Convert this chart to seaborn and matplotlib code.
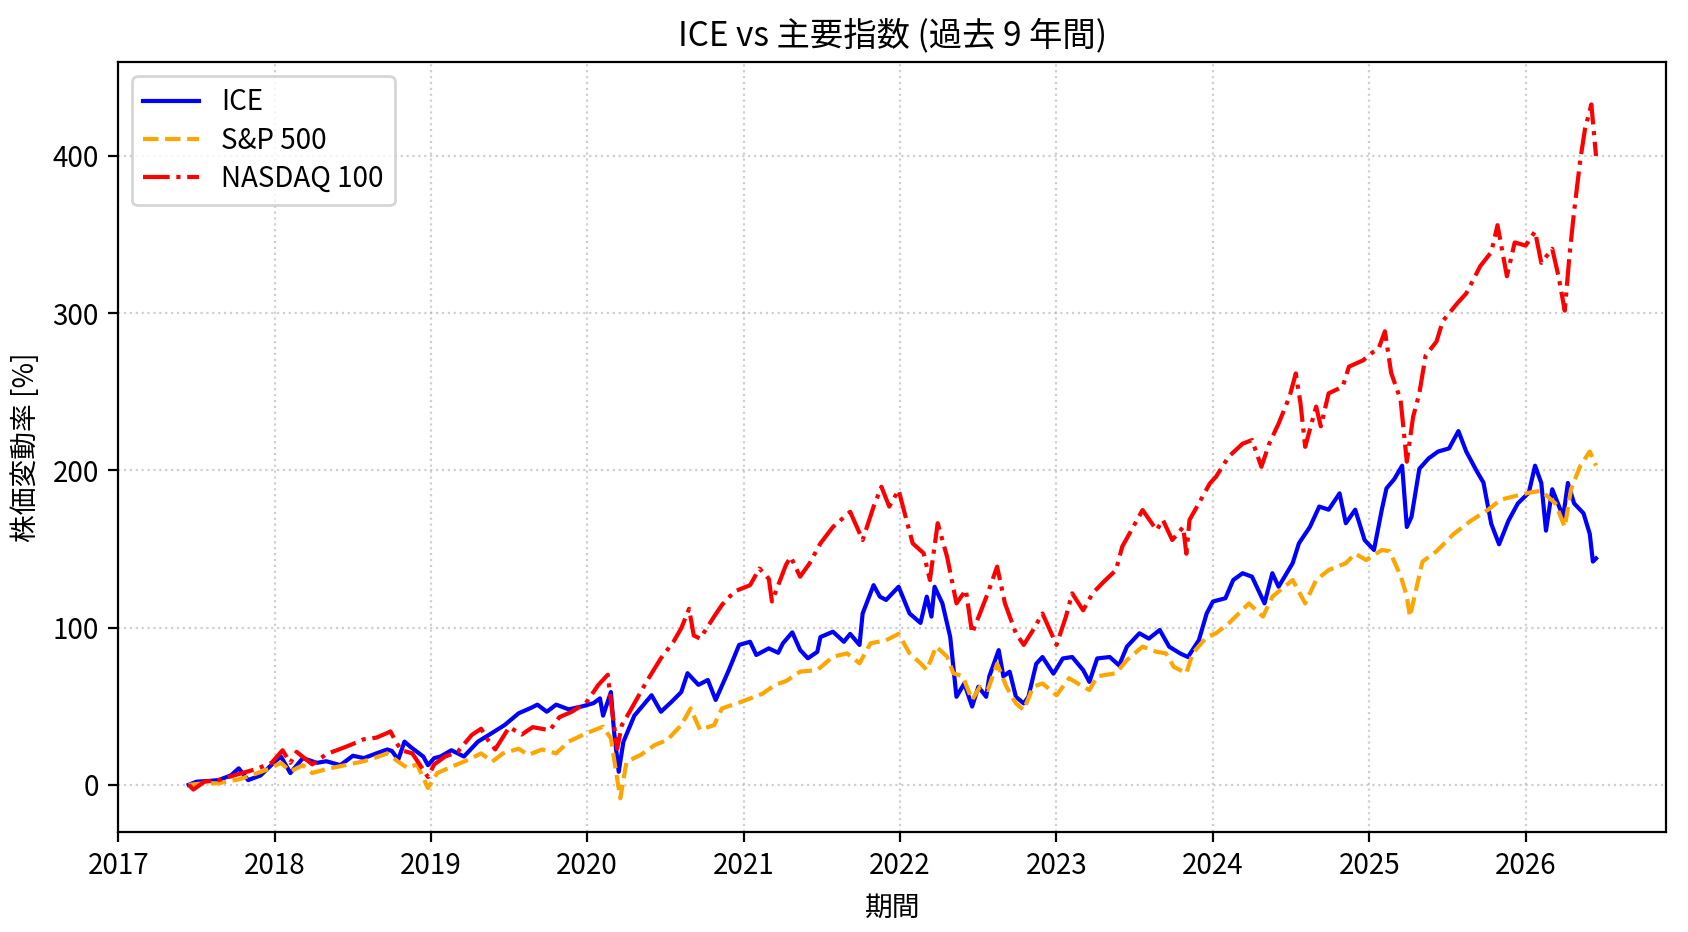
import numpy as np
import pandas as pd
import matplotlib
matplotlib.use("Agg")
import matplotlib.pyplot as plt
import seaborn as sns

plt.rcParams['font.family'] = ['Noto Sans CJK JP', 'DejaVu Sans']
plt.rcParams['axes.unicode_minus'] = False

# decimal year / % change
ice_t = [2017.45, 2017.50, 2017.58, 2017.64, 2017.72, 2017.77, 2017.83, 2017.91, 2018.00, 2018.04,
         2018.10, 2018.18, 2018.27, 2018.33, 2018.42, 2018.50, 2018.57, 2018.65, 2018.72, 2018.75,
         2018.79, 2018.83, 2018.87, 2018.95, 2018.98, 2019.02, 2019.06, 2019.13, 2019.21, 2019.30,
         2019.39, 2019.47, 2019.56, 2019.64, 2019.68, 2019.74, 2019.80, 2019.88, 2019.97, 2020.04,
         2020.08, 2020.10, 2020.15, 2020.17, 2020.20, 2020.23, 2020.30, 2020.41, 2020.47, 2020.54,
         2020.60, 2020.64, 2020.71, 2020.77, 2020.82, 2020.90, 2020.97, 2021.04, 2021.08, 2021.16,
         2021.22, 2021.25, 2021.31, 2021.36, 2021.41, 2021.47, 2021.49, 2021.57, 2021.64, 2021.68,
         2021.74, 2021.76, 2021.83, 2021.87, 2021.91, 2021.99, 2022.06, 2022.13, 2022.17, 2022.20,
         2022.22, 2022.27, 2022.32, 2022.36, 2022.41, 2022.46, 2022.50, 2022.55, 2022.57, 2022.63,
         2022.66, 2022.70, 2022.74, 2022.79, 2022.82, 2022.87, 2022.91, 2022.98, 2023.04, 2023.10,
         2023.17, 2023.21, 2023.26, 2023.34, 2023.40, 2023.45, 2023.53, 2023.59, 2023.66, 2023.72,
         2023.79, 2023.84, 2023.91, 2023.96, 2024.00, 2024.08, 2024.13, 2024.19, 2024.25, 2024.33,
         2024.38, 2024.42, 2024.51, 2024.55, 2024.62, 2024.68, 2024.74, 2024.81, 2024.85, 2024.91,
         2024.97, 2025.03, 2025.08, 2025.11, 2025.16, 2025.21, 2025.24, 2025.27, 2025.32, 2025.38,
         2025.44, 2025.51, 2025.57, 2025.62, 2025.69, 2025.73, 2025.78, 2025.83, 2025.89, 2025.95,
         2026.02, 2026.06, 2026.10, 2026.13, 2026.17, 2026.24, 2026.27, 2026.31, 2026.37, 2026.41,
         2026.43, 2026.45]
ice_v = [0, 2, 2.5, 3, 6, 10.5, 3, 6, 14.7, 18,
         7.5, 17, 14, 15, 12.5, 18.5, 17, 20, 22.5, 21.5,
         16, 27.5, 24, 18, 12.5, 17, 18, 22, 18, 27.5,
         33, 38, 45.5, 49, 51, 46.5, 51, 48, 50, 52,
         55, 44, 59, 34, 8.3, 27.4, 44, 57, 46.5, 53,
         59, 71, 63.6, 66.7, 54, 72, 89, 91, 82.6, 86.8,
         84, 90, 97, 85.8, 80.5, 84.6, 94, 97.4, 91, 96,
         89, 109, 127, 119.7, 117.6, 126, 109, 103, 119.7, 107,
         126, 115.4, 94, 56, 64.5, 49.8, 62.4, 56, 69, 85.7,
         69, 72, 56, 51.8, 56, 77, 81.3, 70.7, 80.4, 81.3,
         73, 65.5, 80.4, 81.3, 76, 87.9, 96.4, 93, 98.5, 87.9,
         83.6, 81.3, 92, 109, 116.6, 118.7, 130.3, 134.6, 132.4, 115.4,
         134.6, 126, 141, 153.6, 164, 177, 175, 185.4, 166.4, 175,
         155.7, 149.4, 175, 188.6, 194.5, 203, 164, 170.5, 201, 207.7,
         212, 214, 225, 212, 199, 192.3, 166, 153, 168, 179,
         185.8, 203, 192, 161.7, 188, 170.5, 192, 179, 172.7, 159.6,
         142, 144]

spx_t = [2017.45, 2017.55, 2017.64, 2017.77, 2017.85, 2017.96, 2018.04, 2018.10, 2018.18, 2018.24,
         2018.33, 2018.45, 2018.57, 2018.65, 2018.72, 2018.79, 2018.85, 2018.91, 2018.98, 2019.04,
         2019.13, 2019.24, 2019.32, 2019.39, 2019.46, 2019.56, 2019.62, 2019.71, 2019.80, 2019.88,
         2019.99, 2020.10, 2020.15, 2020.19, 2020.21, 2020.25, 2020.34, 2020.43, 2020.51, 2020.60,
         2020.66, 2020.72, 2020.81, 2020.86, 2020.99, 2021.12, 2021.20, 2021.27, 2021.36, 2021.47,
         2021.57, 2021.66, 2021.74, 2021.81, 2021.91, 2021.99, 2022.06, 2022.13, 2022.17, 2022.23,
         2022.30, 2022.34, 2022.40, 2022.46, 2022.51, 2022.56, 2022.62, 2022.68, 2022.74, 2022.79,
         2022.85, 2022.91, 2023.00, 2023.08, 2023.17, 2023.21, 2023.26, 2023.38, 2023.45, 2023.55,
         2023.64, 2023.70, 2023.75, 2023.83, 2023.87, 2023.96, 2024.02, 2024.10, 2024.23, 2024.32,
         2024.38, 2024.51, 2024.59, 2024.66, 2024.74, 2024.85, 2024.91, 2024.98, 2025.08, 2025.13,
         2025.20, 2025.24, 2025.26, 2025.30, 2025.34, 2025.43, 2025.54, 2025.65, 2025.76, 2025.84,
         2025.93, 2026.02, 2026.10, 2026.19, 2026.25, 2026.29, 2026.35, 2026.41, 2026.45]
spx_v = [0, 1, 1, 3.5, 6, 10, 14, 8.5, 12.5, 7.5,
         10, 12.5, 15, 17.5, 20, 14.7, 10.7, 13, -2, 7.5,
         11.5, 16, 20, 14.7, 20, 23, 19, 22.5, 20, 27.5,
         32.7, 37, 29.5, 4, -8.6, 14.7, 19, 25.3, 28.5, 38,
         48.6, 35, 38, 48.6, 53, 58, 63.6, 66, 72, 73,
         81.5, 83.6, 77.3, 90, 92, 96, 83.6, 77.3, 73, 88,
         81.5, 71, 69, 54, 62.4, 60.3, 77, 62.4, 51.8, 47.6,
         62.4, 64.5, 57, 67.8, 62.4, 60.3, 69, 71, 79.4, 87.9,
         84.6, 83.6, 75, 71, 83.6, 94, 96.4, 102.6, 115.4, 107,
         119.7, 130.3, 115.4, 130.3, 136.6, 141, 147, 143, 149.4, 148.6,
         133, 120, 107, 124.6, 142, 148.6, 159.6, 168, 175, 181.4,
         183.6, 185.8, 187, 179, 164, 188, 203, 212, 203]

ndx_t = [2017.45, 2017.48, 2017.55, 2017.64, 2017.74, 2017.88, 2017.98, 2018.05, 2018.10, 2018.14,
         2018.24, 2018.33, 2018.45, 2018.50, 2018.57, 2018.65, 2018.72, 2018.74, 2018.78, 2018.81,
         2018.88, 2018.98, 2019.02, 2019.09, 2019.17, 2019.26, 2019.32, 2019.36, 2019.41, 2019.50,
         2019.58, 2019.65, 2019.76, 2019.82, 2019.90, 2019.99, 2020.07, 2020.13, 2020.15, 2020.19,
         2020.22, 2020.27, 2020.38, 2020.47, 2020.55, 2020.60, 2020.65, 2020.68, 2020.72, 2020.81,
         2020.86, 2020.94, 2021.04, 2021.10, 2021.16, 2021.18, 2021.22, 2021.27, 2021.30, 2021.36,
         2021.42, 2021.49, 2021.57, 2021.68, 2021.76, 2021.83, 2021.88, 2021.93, 2021.99, 2022.04,
         2022.08, 2022.15, 2022.19, 2022.24, 2022.30, 2022.36, 2022.42, 2022.46, 2022.51, 2022.56,
         2022.62, 2022.67, 2022.74, 2022.79, 2022.85, 2022.91, 2023.00, 2023.06, 2023.10, 2023.17,
         2023.23, 2023.30, 2023.38, 2023.42, 2023.49, 2023.55, 2023.64, 2023.68, 2023.74, 2023.81,
         2023.83, 2023.85, 2023.91, 2023.98, 2024.02, 2024.10, 2024.19, 2024.25, 2024.31, 2024.36,
         2024.42, 2024.49, 2024.53, 2024.56, 2024.59, 2024.66, 2024.69, 2024.74, 2024.83, 2024.87,
         2024.96, 2025.02, 2025.06, 2025.10, 2025.14, 2025.20, 2025.24, 2025.28, 2025.32, 2025.36,
         2025.43, 2025.47, 2025.56, 2025.62, 2025.71, 2025.78, 2025.82, 2025.88, 2025.93, 2026.00,
         2026.06, 2026.10, 2026.17, 2026.21, 2026.25, 2026.28, 2026.31, 2026.35, 2026.38, 2026.42,
         2026.45]
ndx_v = [0, -3, 2, 3, 6, 10, 14, 22, 14, 21,
         13, 19.5, 24, 26, 29, 30, 33, 34, 26.5, 22,
         20, 5, 13, 18, 21, 31.7, 35.7, 29, 22.5, 36.7,
         32, 36.7, 34.7, 43, 46.5, 52, 63.6, 70, 53, 23,
         38, 46.5, 66, 80.5, 91, 99.6, 112, 95, 93, 107,
         114.4, 123, 127, 137.6, 131, 116.6, 127, 140, 145, 132.4,
         140.8, 153.6, 164, 173.7, 155.7, 177, 189.6, 177, 187.5, 168.5,
         153.6, 147.3, 130.3, 166.4, 145, 115.4, 124, 96.4, 109, 121.8,
         138.8, 115.4, 96.4, 89, 98.5, 109, 89, 107, 121.8, 111,
         121.8, 129, 136.6, 151.5, 164, 174.8, 162, 168.5, 155.7, 164,
         147, 168.5, 179, 191.7, 196, 208.7, 217, 219.3, 202.3, 217,
         229.8, 247, 261.7, 242.7, 215, 240.6, 228, 249, 253.3, 266,
         270, 275, 277.6, 288.5, 262, 245, 205.5, 234, 249, 273,
         282, 295, 306, 312.6, 330, 338.8, 356, 323.5, 345, 343,
         352, 332, 341, 323.5, 301.6, 336.6, 365, 398, 417.5, 432.8,
         400]


def to_dates(years):
    yrs = np.array(years) - 2017
    return pd.Timestamp("2017-01-01") + pd.to_timedelta(yrs * 365.25, unit="D")


fig, ax = plt.subplots(figsize=(8.44, 4.66), dpi=200)
fig.subplots_adjust(left=0.0701, right=0.9872, bottom=0.1073, top=0.9330)

sns.lineplot(x=to_dates(ice_t), y=ice_v, ax=ax, color="blue", linestyle="-",
             linewidth=1.5, label="ICE", errorbar=None)
sns.lineplot(x=to_dates(spx_t), y=spx_v, ax=ax, color="orange", linestyle="--",
             linewidth=1.5, label="S&P 500", errorbar=None)
sns.lineplot(x=to_dates(ndx_t), y=ndx_v, ax=ax, color="red", linestyle="-.",
             linewidth=1.5, label="NASDAQ 100", errorbar=None)

ax.set_xlim(to_dates([2017.0, 2026.9]))
ax.set_ylim(-30, 459.5)
ax.set_title("ICE vs 主要指数 (過去 9 年間)", fontsize=12)
ax.set_xlabel("期間")
ax.set_ylabel("株価変動率 [%]")
ax.grid(True, linestyle=":", alpha=0.6)
ax.legend(loc="upper left", labelspacing=0.3)

plt.savefig("out.png", dpi=200)
